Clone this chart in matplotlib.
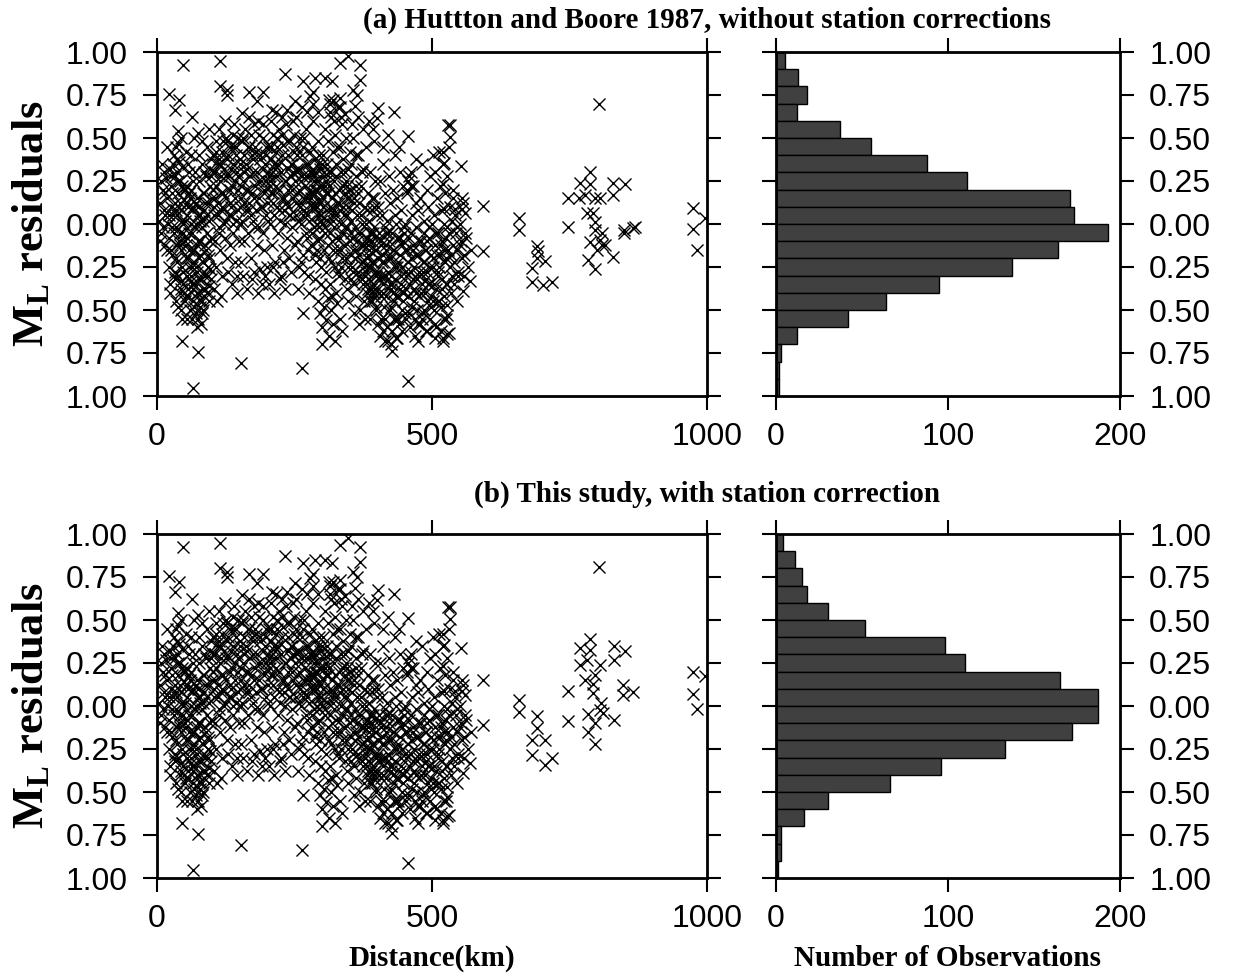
import numpy as np
import matplotlib
matplotlib.use("Agg")
import matplotlib.pyplot as plt
from matplotlib.ticker import FuncFormatter

# ---------------- data ----------------
bin_centers = [0.95, 0.85, 0.75, 0.65, 0.55, 0.45, 0.35, 0.25, 0.15, 0.05,
               -0.05, -0.15, -0.25, -0.35, -0.45, -0.55, -0.65, -0.75, -0.85, -0.95]
hist_a = [5, 13, 18, 12, 37, 55, 88, 111, 171, 173, 193, 164, 137, 95, 64, 42, 12, 3, 2, 2]
hist_b = [4, 11, 15, 18, 30, 52, 98, 110, 165, 187, 187, 172, 133, 96, 66, 30, 16, 3, 3, 1]

# (distance km, residual) read from the dense part of the clouds (same in both panels)
pts_0_100 = [
    (3, 0.02), (5, 0.12), (8, -0.05), (10, 0.20), (12, 0.08), (14, -0.12), (16, 0.27), (18, 0.15),
    (20, 0.00), (22, -0.08), (24, 0.32), (25, 0.22), (26, 0.10), (27, -0.02), (28, -0.18), (29, 0.05),
    (30, -0.30), (30, 0.40), (13, 0.30), (6, -0.10), (21, -0.25), (19, 0.45), (9, 0.35), (23, -0.35),
    (15, 0.05),
    (32, 0.28), (33, 0.12), (34, -0.02), (35, -0.20), (36, 0.38), (37, 0.05), (38, -0.30), (39, 0.18),
    (40, -0.10), (41, -0.40), (42, 0.25), (43, 0.08), (44, -0.15), (45, -0.25), (46, 0.33), (47, -0.05),
    (48, -0.35), (49, 0.14), (50, -0.45), (51, 0.02), (52, -0.20), (53, 0.22), (54, -0.30), (55, -0.08),
    (56, 0.10), (57, -0.38), (58, 0.30), (59, -0.15), (60, -0.50), (34, 0.45), (44, 0.50), (52, 0.42),
    (38, -0.48), (46, -0.55), (58, -0.25), (36, -0.12), (42, -0.05), (48, 0.00), (54, 0.05), (50, 0.20),
    (40, 0.36), (56, -0.42), (44, -0.33), (32, -0.28), (60, 0.15),
    (61, 0.40), (62, 0.20), (63, -0.05), (64, -0.25), (65, -0.45), (66, 0.10), (67, -0.15), (68, -0.35),
    (69, 0.30), (70, -0.52), (71, 0.00), (72, -0.28), (73, 0.15), (74, -0.40), (75, -0.10), (76, 0.25),
    (77, -0.20), (78, -0.48), (79, 0.05), (80, -0.32), (81, 0.35), (82, -0.02), (83, -0.22), (84, 0.18),
    (85, -0.42), (86, 0.08), (87, -0.12), (88, -0.30), (89, 0.28), (90, -0.05), (91, 0.45), (92, -0.18),
    (93, 0.12), (94, -0.36), (95, 0.02), (96, 0.22), (97, -0.26), (98, 0.38), (99, -0.08), (100, 0.15),
    (64, -0.55), (72, -0.60), (80, -0.58), (68, 0.50), (76, -0.44), (84, -0.50), (66, -0.38), (74, 0.05),
    (82, 0.48), (90, -0.40), (70, 0.12), (78, -0.10), (86, 0.30), (94, 0.55), (62, -0.30),
]
pts_100_250 = [
    (101, 0.40), (102, 0.20), (104, 0.05), (105, -0.10), (106, 0.30), (107, 0.48), (108, -0.25), (110, 0.12),
    (111, 0.35), (112, -0.02), (113, 0.55), (114, 0.25), (115, -0.15), (116, 0.08), (118, 0.42), (119, -0.30),
    (120, 0.18), (121, 0.00), (122, 0.32), (124, -0.08), (125, 0.50), (126, 0.15), (127, -0.20), (128, 0.38),
    (130, 0.05), (131, 0.28), (132, -0.12), (133, 0.45), (134, 0.10), (136, -0.35), (137, 0.22), (138, 0.35),
    (139, -0.05), (140, 0.58), (141, 0.15), (142, -0.22), (143, 0.40), (144, 0.02), (145, 0.30), (146, -0.40),
    (147, 0.20), (148, 0.50), (149, -0.10), (150, 0.10), (103, -0.38), (109, -0.45), (117, -0.42), (123, 0.60),
    (129, -0.28), (135, 0.05), (103, 0.10), (117, 0.28), (139, 0.45), (145, -0.30), (112, 0.38),
    (151, 0.35), (152, 0.15), (154, 0.48), (155, 0.02), (156, 0.25), (158, 0.40), (159, -0.10), (160, 0.55),
    (161, 0.20), (162, 0.08), (164, 0.32), (165, -0.05), (166, 0.45), (168, 0.12), (169, 0.28), (170, -0.20),
    (171, 0.52), (172, 0.18), (174, 0.02), (175, 0.38), (176, -0.28), (178, 0.22), (179, 0.45), (180, 0.08),
    (181, -0.12), (182, 0.30), (184, 0.60), (185, 0.15), (186, -0.02), (188, 0.40), (189, 0.25), (190, -0.35),
    (191, 0.10), (192, 0.50), (194, 0.20), (195, -0.15), (196, 0.35), (198, 0.05), (199, 0.45), (200, -0.25),
    (157, -0.30), (163, -0.38), (173, -0.32), (187, -0.26), (197, -0.30), (167, 0.62), (177, 0.58), (193, 0.58),
    (183, -0.40), (153, -0.22),
    (201, 0.30), (202, 0.12), (204, 0.45), (205, 0.00), (206, 0.22), (208, 0.38), (209, -0.12), (210, 0.52),
    (211, 0.18), (212, 0.05), (214, 0.32), (215, -0.22), (216, 0.42), (218, 0.10), (219, 0.28), (220, -0.05),
    (221, 0.55), (222, 0.20), (224, 0.02), (225, 0.36), (226, -0.30), (228, 0.15), (229, 0.46), (230, 0.08),
    (231, -0.15), (232, 0.25), (234, 0.58), (235, 0.12), (236, -0.08), (238, 0.40), (239, 0.20), (240, -0.20),
    (241, 0.05), (242, 0.48), (244, 0.28), (245, -0.02), (246, 0.35), (248, 0.15), (249, 0.52), (250, -0.12),
    (203, -0.35), (213, -0.40), (223, -0.32), (233, -0.38), (243, -0.28), (207, 0.60), (217, 0.65), (227, 0.62),
    (237, 0.66), (247, 0.60), (211, -0.25), (229, -0.22), (239, 0.32), (219, 0.45), (205, 0.25),
]
pts_250_400 = [
    (251, 0.25), (252, 0.05), (254, 0.40), (255, -0.10), (256, 0.18), (258, 0.32), (259, -0.25), (260, 0.50),
    (261, 0.12), (262, 0.00), (264, 0.28), (265, -0.18), (266, 0.45), (268, 0.08), (269, 0.22), (270, -0.05),
    (271, 0.55), (272, 0.15), (274, -0.30), (275, 0.35), (276, 0.02), (278, 0.20), (279, 0.42), (280, -0.12),
    (281, 0.10), (282, 0.30), (284, 0.60), (285, -0.02), (286, 0.18), (288, 0.38), (289, -0.22), (290, 0.05),
    (291, 0.25), (292, 0.48), (294, -0.08), (295, 0.14), (296, 0.32), (298, -0.35), (299, 0.02), (300, 0.22),
    (253, 0.62), (263, 0.68), (273, 0.65), (283, 0.70), (293, 0.65), (257, -0.38), (267, -0.28), (277, -0.40),
    (287, -0.32), (297, -0.20), (260, 0.10), (270, 0.28), (280, 0.15), (290, -0.15), (265, 0.05), (275, -0.15),
    (285, 0.25), (295, 0.40), (255, 0.30), (262, -0.22),
    (292, -0.45), (296, -0.52), (300, -0.60), (304, -0.48), (308, -0.56), (312, -0.65), (316, -0.50),
    (320, -0.58), (324, -0.68), (328, -0.46), (332, -0.55), (336, -0.62), (300, -0.70), (318, -0.42), (310, -0.43),
    (301, 0.40), (302, 0.10), (303, -0.15), (304, 0.28), (305, 0.55), (306, -0.05), (307, 0.18), (308, -0.28),
    (309, 0.35), (310, 0.02), (311, 0.48), (312, -0.20), (313, 0.22), (314, 0.08), (315, -0.35), (316, 0.30),
    (317, 0.62), (318, -0.10), (319, 0.15), (320, 0.42), (321, -0.02), (322, 0.25), (323, -0.25), (324, 0.52),
    (325, 0.05), (326, 0.35), (327, -0.15), (328, 0.12), (329, 0.68), (330, -0.30), (331, 0.20), (332, 0.45),
    (333, -0.08), (334, 0.00), (335, 0.30), (336, -0.20), (337, 0.58), (338, 0.10), (339, 0.38), (340, -0.12),
    (341, 0.18), (342, -0.32), (343, 0.25), (344, 0.50), (345, 0.05), (346, -0.02), (347, 0.32), (348, -0.25),
    (349, 0.15), (350, 0.42), (305, -0.38), (315, 0.65), (325, -0.40), (335, 0.62), (345, -0.38), (312, 0.72),
    (322, 0.60), (332, 0.68), (342, 0.64), (348, -0.45), (303, 0.30), (318, 0.05), (327, 0.45), (338, -0.05),
    (346, 0.22),
    (351, 0.20), (352, -0.05), (353, 0.35), (354, -0.25), (355, 0.08), (356, -0.15), (357, 0.50), (358, -0.35),
    (359, 0.15), (360, -0.02), (361, 0.28), (362, -0.42), (363, -0.10), (364, 0.05), (365, -0.28), (366, 0.40),
    (367, -0.18), (368, 0.12), (369, -0.50), (370, -0.05), (371, 0.22), (372, -0.32), (373, 0.00), (374, -0.22),
    (375, 0.32), (376, -0.12), (377, -0.45), (378, 0.10), (379, -0.30), (380, 0.45), (381, -0.08), (382, -0.20),
    (383, 0.18), (384, -0.38), (385, 0.02), (386, -0.15), (387, 0.30), (388, -0.55), (389, -0.25), (390, 0.08),
    (391, -0.10), (392, 0.55), (393, -0.35), (394, 0.15), (395, -0.02), (396, -0.28), (397, 0.25), (398, -0.48),
    (399, -0.15), (400, 0.05), (355, 0.58), (365, 0.62), (375, 0.55), (385, 0.60), (395, 0.48), (358, -0.52),
    (368, -0.58), (378, -0.55), (362, 0.40), (372, 0.30), (382, -0.40), (392, -0.42), (353, -0.32), (387, -0.05),
    (397, -0.38),
]
pts_400_570 = [
    (401, -0.20), (402, 0.10), (403, -0.40), (404, -0.05), (405, 0.25), (406, -0.30), (407, -0.55), (408, -0.12),
    (409, 0.05), (410, -0.35), (411, 0.35), (412, -0.22), (413, -0.48), (414, -0.02), (415, 0.18), (416, -0.42),
    (417, -0.15), (418, -0.60), (419, 0.02), (420, -0.28), (421, 0.28), (422, -0.10), (423, -0.50), (424, 0.12),
    (425, -0.38), (426, -0.20), (427, -0.62), (428, -0.05), (429, 0.20), (430, -0.45), (431, -0.15), (432, 0.40),
    (433, -0.32), (434, -0.55), (435, 0.00), (436, -0.25), (437, 0.15), (438, -0.42), (439, -0.08), (440, -0.58),
    (441, 0.30), (442, -0.18), (443, -0.35), (444, 0.08), (445, -0.50), (446, -0.12), (447, 0.22), (448, -0.40),
    (449, -0.02), (450, -0.28), (405, -0.65), (415, -0.68), (425, -0.70), (435, -0.66), (445, -0.62), (410, 0.45),
    (420, 0.52), (440, 0.45), (412, -0.30), (428, -0.35), (438, -0.22), (448, -0.10), (403, -0.08), (417, -0.05),
    (433, 0.05),
    (451, 0.00), (452, -0.30), (453, -0.55), (454, 0.18), (455, -0.15), (456, -0.42), (457, 0.25), (458, -0.08),
    (459, -0.35), (460, -0.60), (461, 0.30), (462, -0.20), (463, 0.05), (464, -0.48), (465, -0.12), (466, 0.22),
    (467, -0.38), (468, -0.25), (469, -0.65), (470, -0.02), (471, 0.12), (472, -0.32), (473, -0.50), (474, -0.18),
    (475, 0.08), (476, -0.42), (477, -0.28), (478, -0.58), (479, 0.15), (480, -0.10), (481, -0.35), (482, 0.35),
    (483, -0.22), (484, -0.52), (485, -0.05), (486, 0.02), (487, -0.40), (488, -0.15), (489, -0.62), (490, 0.20),
    (491, -0.28), (492, -0.45), (493, 0.10), (494, -0.08), (495, -0.35), (496, -0.55), (497, 0.28), (498, -0.18),
    (499, -0.42), (500, 0.00), (458, 0.28), (462, 0.22), (470, 0.38), (455, 0.20), (475, -0.68),
    (501, -0.25), (502, 0.40), (503, -0.50), (504, 0.05), (505, -0.12), (506, 0.30), (507, -0.38), (508, -0.60),
    (509, 0.15), (510, -0.05), (511, -0.28), (512, 0.42), (513, -0.45), (514, -0.18), (515, 0.22), (516, -0.62),
    (517, 0.08), (518, -0.32), (519, -0.10), (520, 0.35), (521, -0.42), (522, 0.00), (523, -0.22), (524, 0.18),
    (525, -0.55), (526, -0.08), (527, 0.28), (528, -0.35), (529, -0.15), (530, 0.45), (531, -0.05), (532, -0.25),
    (533, 0.10), (534, -0.40), (535, -0.18), (536, 0.02), (537, -0.30), (538, 0.15), (539, -0.12), (540, -0.22),
    (542, 0.05), (544, -0.05), (546, -0.15), (548, -0.28), (550, 0.00), (552, -0.10), (554, -0.20), (556, 0.12),
    (558, -0.30), (560, -0.05), (545, -0.02), (550, -0.12), (558, -0.18), (565, -0.25), (548, -0.30),
    (562, -0.08), (540, -0.35), (570, -0.15),
]
# the darkest parts of the clouds
pts_dark_near = [
    (22, 0.05), (25, -0.15), (28, 0.18), (31, -0.05), (33, -0.32), (35, 0.08), (37, -0.22), (39, 0.25),
    (41, -0.12), (43, -0.38), (45, 0.02), (47, -0.28), (49, 0.20), (51, -0.10), (53, -0.42), (55, 0.12),
    (57, -0.20), (59, -0.05), (61, -0.33), (63, 0.08), (65, -0.15), (67, -0.48), (69, -0.02), (71, -0.25),
    (73, -0.40), (75, 0.10), (77, -0.32), (79, -0.18), (81, -0.45), (83, 0.02), (85, -0.28), (87, -0.38),
    (89, -0.15), (91, 0.05), (93, -0.25), (95, -0.45), (97, -0.10), (99, 0.28), (26, 0.28), (36, 0.30),
    (46, 0.22), (56, 0.35), (66, 0.25), (76, 0.40), (86, 0.18), (96, 0.32), (24, -0.40), (34, -0.45),
    (44, -0.50), (54, -0.55), (64, -0.35), (74, -0.55), (84, -0.38), (94, -0.20), (18, -0.15), (15, 0.18),
    (11, -0.02), (7, 0.25), (29, 0.35), (42, 0.12), (58, 0.18), (68, -0.22), (78, 0.02), (88, 0.12),
    (98, -0.32), (52, -0.12), (62, 0.00), (72, -0.12), (82, -0.52), (92, -0.30),
    (102, 0.30), (105, 0.15), (108, 0.42), (111, 0.05), (114, 0.35), (117, 0.18), (120, 0.48), (123, 0.02),
    (126, 0.28), (129, 0.40), (132, 0.12), (135, 0.32), (138, 0.00), (141, 0.25), (144, 0.45), (147, 0.08),
    (150, 0.38), (153, 0.22), (156, 0.50), (159, 0.12), (162, 0.35), (165, 0.20), (168, 0.45), (171, 0.05),
    (174, 0.30), (177, 0.15), (180, 0.42), (183, 0.25), (186, 0.52), (189, 0.10), (192, 0.32), (195, 0.18),
    (198, 0.40), (201, 0.02), (204, 0.28), (207, 0.45), (210, 0.12), (213, 0.35), (216, 0.22), (219, 0.50),
    (222, 0.08), (225, 0.30), (228, 0.40), (231, 0.15), (234, 0.25), (237, 0.48), (240, 0.05), (243, 0.35),
    (246, 0.20), (249, 0.42), (252, 0.12), (255, 0.32), (258, 0.02), (261, 0.25), (264, 0.40), (267, 0.15),
    (270, 0.35), (273, 0.05), (276, 0.28), (279, 0.18), (282, 0.45), (285, 0.10), (288, 0.30), (291, 0.00),
    (294, 0.22), (297, 0.12), (300, 0.35), (107, 0.22), (127, 0.48), (147, 0.28), (167, 0.08), (187, 0.38),
    (207, 0.18), (227, 0.52), (247, 0.30), (267, 0.50), (287, 0.20), (112, -0.05), (132, 0.20), (152, 0.00),
    (172, 0.40), (192, -0.05), (212, 0.28), (232, 0.00), (252, 0.45), (272, -0.08), (292, 0.35), (118, 0.10),
    (138, 0.52), (158, 0.30), (178, -0.02), (198, 0.25), (218, 0.35), (238, 0.10), (258, 0.20), (278, 0.30),
    (298, 0.05),
]
pts_dark_far = [
    (281, -0.05), (284, 0.12), (287, -0.18), (290, 0.20), (293, -0.10), (296, 0.05), (299, -0.25), (302, 0.15),
    (305, -0.02), (308, 0.25), (311, -0.12), (314, 0.10), (317, -0.22), (320, 0.02), (323, 0.18), (326, -0.08),
    (329, -0.28), (332, 0.08), (335, -0.15), (338, 0.22), (341, -0.02), (344, -0.20), (347, 0.10), (350, -0.10),
    (353, 0.02), (356, -0.28), (359, 0.12), (362, -0.15), (365, -0.05), (368, -0.30), (371, 0.05), (374, -0.12),
    (377, -0.25), (380, 0.00), (383, -0.18), (386, -0.32), (389, -0.05), (392, -0.22), (395, 0.10), (398, -0.30),
    (290, 0.10), (300, 0.00), (310, 0.18), (320, -0.15), (330, 0.12), (340, 0.05), (350, 0.20), (360, -0.20),
    (370, -0.12), (380, -0.28), (390, 0.15), (285, 0.28), (295, -0.02), (305, 0.22), (315, -0.05), (325, 0.28),
    (335, -0.25), (345, 0.15), (355, -0.08), (365, 0.18), (375, -0.35), (385, -0.10), (395, -0.40), (312, 0.30),
    (322, 0.08), (342, 0.30), (352, -0.18), (362, 0.22), (372, -0.22), (382, 0.08),
    (381, -0.35), (384, -0.12), (387, -0.45), (390, -0.22), (393, -0.05), (396, -0.38), (399, -0.50), (402, -0.28),
    (405, -0.10), (408, -0.42), (411, -0.18), (414, -0.55), (417, -0.30), (420, -0.05), (423, -0.35), (426, -0.48),
    (429, -0.15), (432, -0.25), (435, -0.42), (438, -0.55), (441, -0.08), (444, -0.30), (447, -0.45), (450, -0.15),
    (453, -0.38), (456, -0.22), (459, -0.52), (462, -0.05), (465, -0.32), (468, -0.45), (471, -0.18), (474, -0.58),
    (477, -0.10), (480, -0.40), (483, -0.28), (486, -0.50), (489, -0.15), (492, -0.35), (495, -0.02), (498, -0.48),
    (501, -0.20), (504, -0.35), (507, -0.05), (510, -0.45), (513, -0.25), (516, -0.12), (519, -0.38), (522, -0.55),
    (525, -0.20), (528, -0.02), (391, -0.45), (401, -0.58), (411, -0.40), (421, -0.20), (431, -0.55), (441, -0.38),
    (451, -0.52), (461, -0.28), (471, -0.40), (481, -0.55), (491, -0.10), (501, -0.45), (511, -0.30), (521, -0.15),
    (386, -0.25), (396, -0.15), (406, -0.32), (416, -0.12), (426, -0.30), (436, -0.08), (446, -0.25), (456, -0.42),
    (466, -0.15), (476, -0.30), (486, -0.22), (496, -0.25), (506, -0.58), (516, -0.48), (526, -0.35), (389, -0.38),
    (409, -0.22), (429, -0.40), (449, -0.05), (469, -0.55), (489, -0.32), (509, -0.18),
]
# sparse points around the clouds (same in both panels)
pts_sparse = [
    (47, 0.925), (115, 0.95), (22, 0.755), (40, 0.72), (33, 0.66), (115, 0.80), (127, 0.75), (127, 0.78),
    (167, 0.77), (193, 0.77), (182, 0.715), (209, 0.66), (233, 0.87), (251, 0.715), (64, 0.62), (38, 0.54),
    (38, 0.47), (75, 0.53), (155, 0.645), (45, -0.68), (75, -0.745), (153, -0.81), (65, -0.955), (266, -0.52),
    (263, -0.84), (333, 0.935), (347, 0.975), (369, 0.925), (266, 0.83), (287, 0.85), (305, 0.85), (318, 0.83),
    (284, 0.77), (278, 0.745), (320, 0.72), (333, 0.73), (315, 0.70), (369, 0.84), (356, 0.78), (364, 0.75),
    (360, 0.685), (402, 0.675), (400, 0.615), (431, 0.65), (456, 0.51), (529, 0.575), (456, -0.91),
    (411, -0.62), (420, -0.68), (428, -0.74), (436, -0.66), (490, -0.62), (505, -0.66), (520, -0.68), (527, -0.64),
    (533, 0.575), (533, 0.505), (520, 0.42), (522, 0.355), (552, 0.34), (520, 0.23), (538, 0.20), (554, 0.15),
    (555, 0.09), (560, 0.065), (542, 0.09), (522, 0.09), (569, -0.33), (557, -0.39), (545, -0.45), (527, -0.47),
    (527, -0.53), (530, -0.635), (520, -0.66),
]
# distant stations, panel (a)
far_dist_a = [593, 593, 658, 658, 691, 693, 691, 705, 682, 682, 702, 718, 804,
              787, 769, 787, 829, 851, 747, 767, 778, 796, 805, 829,
              782, 793, 796, 747, 796, 809, 805, 787, 809, 800, 815, 829, 784, 796,
              849, 866, 849, 869, 975, 975, 982, 996]
far_res_a = [0.105, -0.155, 0.035, -0.035, -0.13, -0.155, -0.20, -0.215, -0.255, -0.34, -0.355, -0.34, 0.70,
             0.30, 0.24, 0.23, 0.24, 0.23, 0.15, 0.15, 0.17, 0.15, 0.15, 0.17,
             0.065, 0.065, 0.01, -0.02, -0.035, -0.055, -0.095, -0.105, -0.12, -0.15, -0.12, -0.19, -0.21, -0.26,
             -0.035, -0.025, -0.055, -0.02, 0.095, -0.03, -0.15, 0.035]
# distant stations, panel (b)
far_dist_b = [804, 787, 769, 787, 830, 851, 830, 769, 805, 781, 796, 778, 748, 793, 793,
              848, 848, 866, 808, 811, 784, 830, 748, 796, 784, 796, 805,
              975, 975, 982, 996, 658, 658, 691, 691, 681, 705, 681, 705, 718, 592, 592]
far_res_b = [0.81, 0.39, 0.335, 0.325, 0.35, 0.32, 0.27, 0.24, 0.24, 0.27, 0.18, 0.15, 0.085, 0.13, 0.075,
             0.12, 0.065, 0.08, 0.015, -0.04, -0.045, -0.08, -0.085, -0.10, -0.15, -0.22, -0.025,
             0.20, 0.07, -0.02, 0.175, 0.035, -0.035, -0.06, -0.13, -0.20, -0.20, -0.285, -0.345, -0.30, 0.15, -0.11]

titles = ["(a) Huttton and Boore 1987, without station corrections",
          "(b) This study, with station correction"]
xlabels = ["Distance(km)", "Number of Observations"]
y_ticks = [1.0, 0.75, 0.5, 0.25, 0.0, -0.25, -0.5, -0.75, -1.0]
dist_ticks = [0, 500, 1000]
count_ticks = [0, 100, 200]

# ---------------- figure ----------------
plt.rcParams['font.family'] = ['Liberation Sans', 'DejaVu Sans']
plt.rcParams['mathtext.fontset'] = 'custom'
plt.rcParams['mathtext.rm'] = 'Liberation Serif:bold'
plt.rcParams['mathtext.it'] = 'Liberation Serif:bold'
plt.rcParams['mathtext.bf'] = 'Liberation Serif:bold'

fig = plt.figure(figsize=(12.36, 9.76), dpi=100)
W, H = 1236.0, 976.0

core = pts_0_100 + pts_100_250 + pts_250_400 + pts_400_570 + pts_dark_near + pts_dark_far + pts_sparse
core_d = [p[0] for p in core]
core_r = [p[1] for p in core]

absfmt = FuncFormatter(lambda v, pos: f"{abs(v):.2f}")
serif_bold = dict(family='Liberation Serif', weight='bold')


def style(ax):
    for s in ax.spines.values():
        s.set_linewidth(2.0)
    ax.tick_params(direction='out', length=10, width=1.5, top=True, right=True,
                   labelsize=23)
    ax.tick_params(axis='y', pad=11)
    ax.tick_params(axis='x', pad=9)


rows = [(52, 396, far_dist_a, far_res_a, hist_a, 20),
        (534, 878, far_dist_b, far_res_b, hist_b, 494)]

for i, (top, bot, fd, fr, hv, ty) in enumerate(rows):
    b = 1 - bot / H
    h = (bot - top) / H
    axs = fig.add_axes([157 / W, b, 550 / W, h])
    axs.plot(core_d, core_r, linestyle='none', marker='x', color='black',
             markersize=8.5, markeredgewidth=1.0)
    axs.plot(fd, fr, linestyle='none', marker='x', color='black',
             markersize=8.5, markeredgewidth=1.0)
    axs.set_xlim(0, 1000)
    axs.set_ylim(-1, 1)
    axs.set_xticks(dist_ticks)
    axs.set_yticks(y_ticks)
    axs.yaxis.set_major_formatter(absfmt)
    style(axs)
    axs.set_ylabel(r'$\mathrm{M_L}$ residuals', fontsize=32, labelpad=10, **serif_bold)

    axh = fig.add_axes([776 / W, b, 344 / W, h])
    axh.barh(bin_centers, hv, height=0.1, color='#404040', edgecolor='black', linewidth=1.0)
    axh.set_xlim(0, 200)
    axh.set_ylim(-1, 1)
    axh.set_xticks(count_ticks)
    axh.set_yticks(y_ticks)
    axh.yaxis.set_major_formatter(absfmt)
    style(axh)
    axh.tick_params(labelleft=False, labelright=True)

    fig.text(707 / W, 1 - ty / H, titles[i], ha='center', va='center', fontsize=21, **serif_bold)

fig.text(432 / W, 1 - 958 / H, xlabels[0], ha='center', va='center', fontsize=21, **serif_bold)
fig.text(948 / W, 1 - 958 / H, xlabels[1], ha='center', va='center', fontsize=21, **serif_bold)

fig.savefig('out.png', dpi=100)
